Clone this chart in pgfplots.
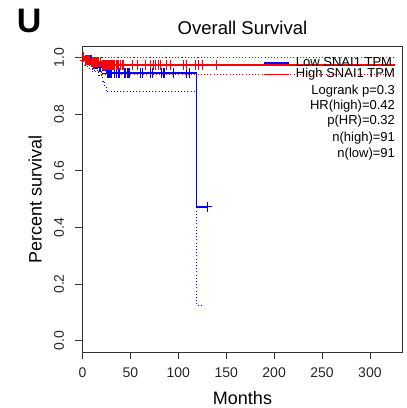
\documentclass[border=0pt]{standalone}
\usepackage{fontspec}
\setmainfont{Liberation Sans}
\usepackage{pgfplots}
\pgfplotsset{compat=1.18}
\definecolor{kmblue}{RGB}{0,0,255}
\definecolor{kmred}{RGB}{255,0,0}
\definecolor{boxgray}{RGB}{50,50,50}

\begin{document}
\begin{tikzpicture}
\path[use as bounding box] (-82.5pt,-56pt) rectangle (324.5pt,352pt);
\begin{axis}[
  scale only axis, width=320pt, height=306pt,
  xmin=0, xmax=334, ymin=-0.04, ymax=1.04,
  xtick={0,50,100,150,200,250,300},
  xticklabels={0,50,100,150,200,250,300},
  ytick={0,0.2,0.4,0.6,0.8,1.0},
  yticklabels={0.0,0.2,0.4,0.6,0.8,1.0},
  xtick pos=bottom, ytick pos=left,
  tick align=outside, major tick length=7pt,
  axis line style={boxgray, line width=0.8pt},
  tick style={boxgray, line width=0.8pt},
  ticklabel style={font=\fontsize{14}{16}\selectfont, text=black!85},
  yticklabel style={rotate=90, anchor=south},
  xticklabel shift=5pt, yticklabel shift=8pt,
  xlabel={Months}, ylabel={Percent survival},
  xlabel style={at={(axis description cs:0.5,-0.150)}, anchor=center, inner sep=0pt, font=\fontsize{18}{20}\selectfont},
  ylabel style={at={(axis description cs:-0.148,0.5)}, anchor=center, inner sep=0pt, font=\fontsize{18}{20}\selectfont},
  title={Overall Survival},
  title style={at={(axis description cs:0.5,1.0196)}, anchor=base, inner sep=0pt, font=\fontsize{18.5}{20}\selectfont},
  legend style={at={(axis description cs:0.977,0.964)}, anchor=north east, draw=none, fill=none,
    inner sep=0pt, row sep=0pt, column sep=6pt,
    nodes={inner sep=0pt, text height=9pt, text depth=2.6pt},
    font=\fontsize{13}{13}\selectfont},
  legend cell align=left,
  legend image code/.code={\draw[#1] (0pt,0pt) -- (25pt,0pt);},
  clip=false,
]
% confidence bands (dotted)
\addplot[forget plot, kmblue, line width=0.9pt, dash pattern=on 1pt off 2.2pt, const plot]
  coordinates {(0,1) (126,1)};
\addplot[forget plot, kmblue, line width=0.9pt, dash pattern=on 1pt off 2.2pt, const plot]
  coordinates {(3,0.97) (10,0.955) (17,0.935) (21,0.915) (23,0.895) (25,0.878) (119,0.126) (126,0.126)};
\addplot[forget plot, kmred, line width=0.9pt, dash pattern=on 1pt off 2.2pt, const plot]
  coordinates {(3,1) (326,1)};
\addplot[forget plot, kmred, line width=0.9pt, dash pattern=on 1pt off 2.2pt, const plot]
  coordinates {(2,0.97) (5,0.962) (10,0.95) (20,0.94) (326,0.94)};
% survival curves
\addplot[kmblue, line width=1.7pt, const plot]
  coordinates {(0,1) (3,0.989) (10,0.978) (17,0.967) (21,0.956) (25,0.944) (119,0.472) (130,0.472)};
\addlegendentry{Low SNAI1 TPM}
% censor marks, low
\addplot[forget plot, only marks, kmblue, mark=+, mark size=5pt, mark options={line width=0.9pt}]
  coordinates {(4,0.989) (5,0.989) (6,0.989) (7,0.989) (8,0.989) (9,0.989)
    (11,0.978) (12,0.978) (13,0.978) (15,0.978) (16,0.978) (18,0.967) (19,0.967)
    (26,0.944) (27,0.944) (28,0.944) (29,0.944) (30,0.944) (33,0.944) (35,0.944)
    (38,0.944) (39,0.944) (44,0.944) (45,0.944) (47,0.944) (48,0.944) (49,0.944)
    (60,0.944) (61,0.944) (63,0.944) (71,0.944) (73,0.944) (82,0.944) (84,0.944)
    (86,0.944) (95,0.944) (109,0.944) (112,0.944) (130,0.472)};
\addplot[kmred, line width=1.7pt, const plot]
  coordinates {(0,1) (2,0.99) (8,0.983) (20,0.972) (326,0.972)};
\addlegendentry{High SNAI1 TPM}
% censor marks, high
\addplot[forget plot, only marks, kmred, mark=+, mark size=5pt, mark options={line width=0.9pt}]
  coordinates {(0.5,1) (1,1) (3,0.99) (4,0.99) (5,0.99) (6,0.99) (7,0.99)
    (9,0.983) (10,0.983) (11,0.983) (12,0.983) (13,0.983) (14,0.983) (15,0.983)
    (16,0.983) (17,0.983) (19,0.983)
    (21,0.972) (22,0.972) (23,0.972) (24,0.972) (25,0.972) (26,0.972) (27,0.972)
    (28,0.972) (29,0.972) (30,0.972) (31,0.972) (32,0.972) (33,0.972) (35,0.972)
    (37,0.972) (38,0.972) (40,0.972) (42,0.972) (43,0.972) (52,0.972) (57,0.972)
    (66,0.972) (71,0.972) (74,0.972) (76,0.972) (79,0.972) (81,0.972) (88,0.972)
    (92,0.972) (105,0.972) (109,0.972) (118,0.972) (121,0.972) (125,0.972) (140,0.972)};
% statistics text
\node[anchor=base east, inner sep=0pt, font=\fontsize{13}{15}\selectfont] at (axis description cs:0.977,0.843) {Logrank p=0.3};
\node[anchor=base east, inner sep=0pt, font=\fontsize{13}{15}\selectfont] at (axis description cs:0.977,0.794) {HR(high)=0.42};
\node[anchor=base east, inner sep=0pt, font=\fontsize{13}{15}\selectfont] at (axis description cs:0.977,0.742) {p(HR)=0.32};
\node[anchor=base east, inner sep=0pt, font=\fontsize{13}{15}\selectfont] at (axis description cs:0.977,0.687) {n(high)=91};
\node[anchor=base east, inner sep=0pt, font=\fontsize{13}{15}\selectfont] at (axis description cs:0.977,0.636) {n(low)=91};
% panel letter
\node[anchor=base west, inner sep=0pt, font=\fontsize{34}{36}\selectfont\bfseries] at (axis description cs:-0.206,1.0425) {U};
\end{axis}
\end{tikzpicture}
\end{document}
